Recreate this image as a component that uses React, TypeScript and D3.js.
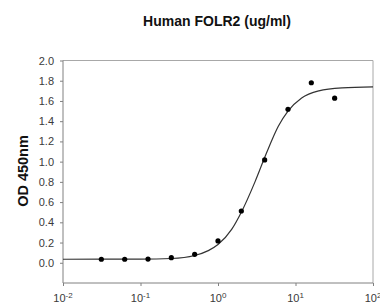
import { useEffect, useRef } from "react";
import * as d3 from "d3";

// concentration (ug/ml) and OD 450nm readings
const conc = [0.03125, 0.0625, 0.125, 0.25, 0.5, 1, 2, 4, 8, 16, 32];
const od = [0.035, 0.035, 0.037, 0.05, 0.084, 0.216, 0.512, 1.017, 1.518, 1.78, 1.627];

// fitted curve
const fitX = [0.01, 0.1, 0.25, 0.5, 0.75, 1, 1.5, 2, 3, 4, 5, 6, 8, 12, 20, 40, 100];
const fitY = [0.035, 0.036, 0.042, 0.072, 0.12, 0.18, 0.33, 0.5, 0.8, 1.04, 1.22, 1.35, 1.5, 1.63, 1.70, 1.73, 1.74];

const yTicks = [0, 0.2, 0.4, 0.6, 0.8, 1.0, 1.2, 1.4, 1.6, 1.8, 2.0];
const xExps = [-2, -1, 0, 1, 2];

const App = () => {
  const svgRef = useRef<SVGSVGElement>(null);

  useEffect(() => {
    const width = 380;
    const height = 306;
    const margin = { top: 60.5, right: 7, bottom: 23, left: 63 };
    const innerWidth = width - margin.left - margin.right;
    const innerHeight = height - margin.top - margin.bottom;

    const svg = d3.select(svgRef.current);
    svg.selectAll("*").remove();
    svg.attr("width", width).attr("height", height);

    svg
      .append("rect")
      .attr("width", width)
      .attr("height", height)
      .attr("fill", "white");

    const g = svg
      .append("g")
      .attr("transform", `translate(${margin.left},${margin.top})`);

    const x = d3.scaleLog().domain([0.01, 100]).range([0, innerWidth]);
    const y = d3.scaleLinear().domain([-0.2, 2.0]).range([innerHeight, 0]);

    // frame: top and right
    g.append("line")
      .attr("x1", 0)
      .attr("x2", innerWidth)
      .attr("y1", 0)
      .attr("y2", 0)
      .attr("stroke", "#a8a8a8");
    g.append("line")
      .attr("x1", innerWidth)
      .attr("x2", innerWidth)
      .attr("y1", 0)
      .attr("y2", innerHeight)
      .attr("stroke", "#a8a8a8");

    // y axis
    const yAxis = g
      .append("g")
      .call(
        d3
          .axisLeft(y)
          .tickValues(yTicks)
          .tickSize(3)
          .tickPadding(6)
          .tickFormat((d) => d3.format(".1f")(d as number))
      );
    yAxis.select(".domain").attr("stroke", "#808080").attr("d", `M0,0V${innerHeight}`);
    yAxis.selectAll(".tick line").attr("stroke", "#808080");
    yAxis
      .selectAll("text")
      .attr("fill", "#3a3a3a")
      .style("font-family", "Liberation Sans, Arial, sans-serif")
      .style("font-size", "11px");

    // x axis
    const xAxis = g
      .append("g")
      .attr("transform", `translate(0,${innerHeight})`)
      .call(
        d3
          .axisBottom(x)
          .tickValues(xExps.map((e) => Math.pow(10, e)))
          .tickSize(3)
          .tickFormat(() => "")
      );
    xAxis.select(".domain").attr("stroke", "#808080").attr("d", `M0,0H${innerWidth}`);
    xAxis.selectAll(".tick line").attr("stroke", "#808080");

    const xl = g
      .append("g")
      .selectAll("text")
      .data(xExps)
      .enter()
      .append("text")
      .attr("x", (e) => x(Math.pow(10, e)))
      .attr("y", innerHeight + 19)
      .attr("text-anchor", "middle")
      .attr("fill", "#3a3a3a")
      .style("font-family", "Liberation Sans, Arial, sans-serif")
      .style("font-size", "11px");
    xl.append("tspan").text("10");
    xl.append("tspan")
      .attr("dy", -4)
      .style("font-size", "8px")
      .text((e) => String(e));

    // fitted curve
    const line = d3
      .line<number>()
      .x((d, i) => x(fitX[i]))
      .y((d) => y(d))
      .curve(d3.curveMonotoneX);
    g.append("path")
      .datum(fitY)
      .attr("fill", "none")
      .attr("stroke", "#333")
      .attr("stroke-width", 1.2)
      .attr("d", line);

    // data points
    g.selectAll(".dot")
      .data(od)
      .enter()
      .append("circle")
      .attr("class", "dot")
      .attr("cx", (d, i) => x(conc[i]))
      .attr("cy", (d) => y(d))
      .attr("r", 2.6)
      .attr("fill", "#000");

    // title
    svg
      .append("text")
      .attr("x", 217)
      .attr("y", 26)
      .attr("text-anchor", "middle")
      .attr("fill", "#111")
      .style("font-family", "Liberation Sans, Arial, sans-serif")
      .style("font-weight", "bold")
      .style("font-size", "14px")
      .text("Human FOLR2 (ug/ml)");

    // y label
    svg
      .append("text")
      .attr("transform", "rotate(-90)")
      .attr("x", -171)
      .attr("y", 27.5)
      .attr("text-anchor", "middle")
      .attr("fill", "#111")
      .style("font-family", "Liberation Sans, Arial, sans-serif")
      .style("font-weight", "bold")
      .style("font-size", "14.5px")
      .text("OD 450nm");
  }, []);

  return (
    <div style={{ position: "absolute", left: 0, top: 0 }}>
      <svg ref={svgRef} style={{ display: "block" }}></svg>
    </div>
  );
};

export default App;
